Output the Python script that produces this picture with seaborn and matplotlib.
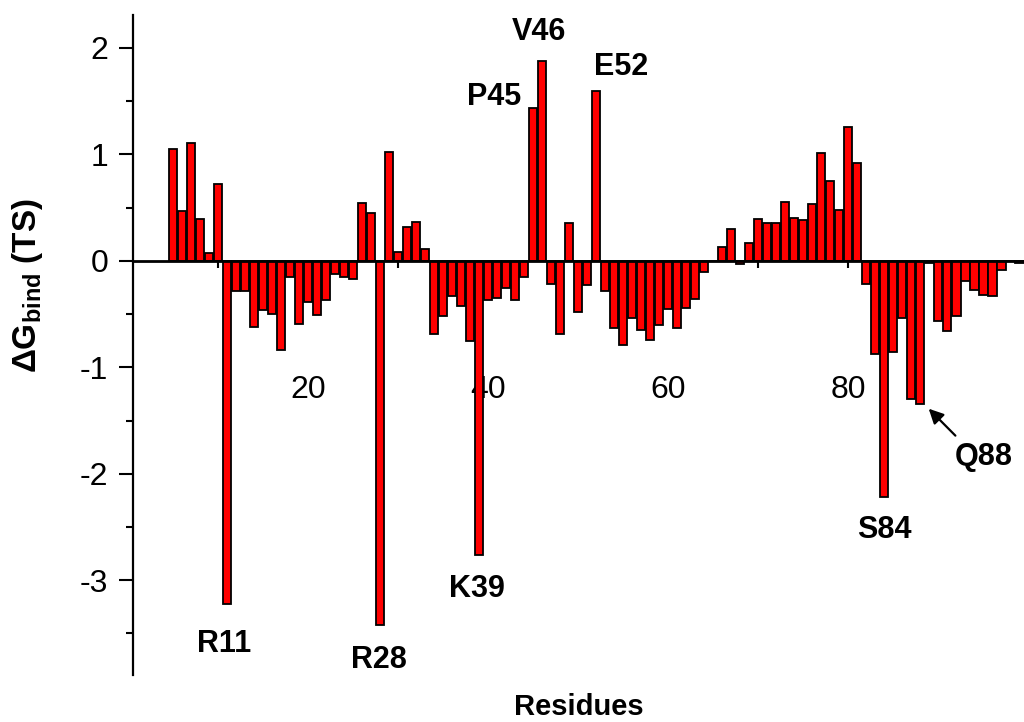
import numpy as np
import pandas as pd
import matplotlib
matplotlib.use("Agg")
import matplotlib.pyplot as plt
from matplotlib.ticker import MultipleLocator, FixedLocator
import seaborn as sns

# residue numbers and binding free energy contributions
residues = list(range(5, 100))
dg_bind = [1.05, 0.47, 1.11, 0.39, 0.07, 0.72, -3.22, -0.28, -0.28, -0.62,
           -0.46, -0.50, -0.84, -0.15, -0.59, -0.39, -0.51, -0.37, -0.12, -0.15,
           -0.17, 0.54, 0.45, -3.42, 1.02, 0.08, 0.32, 0.37, 0.11, -0.69,
           -0.52, -0.33, -0.42, -0.75, -2.76, -0.37, -0.35, -0.25, -0.37, -0.15,
           1.44, 1.88, -0.22, -0.69, 0.36, -0.48, -0.23, 1.60, -0.28, -0.63,
           -0.79, -0.54, -0.65, -0.74, -0.60, -0.45, -0.63, -0.44, -0.36, -0.10,
           0.0, 0.13, 0.30, -0.03, 0.17, 0.39, 0.36, 0.36, 0.55, 0.40,
           0.38, 0.53, 1.01, 0.75, 0.48, 1.26, 0.92, -0.22, -0.87, -2.22,
           -0.86, -0.54, -1.30, -1.34, -0.02, -0.56, -0.66, -0.52, -0.19, -0.27,
           -0.32, -0.33, -0.09, 0.0, -0.02]

# labelled hot-spot residues (text, x, baseline y)
hot_labels = ["V46", "P45", "E52", "R11", "R28", "K39", "S84", "Q88"]
hot_x = [45.6, 40.7, 54.8, 10.7, 27.9, 38.75, 84.0, 95.0]
hot_y = [2.075, 1.465, 1.746, -3.671, -3.822, -3.155, -2.601, -1.915]

df = pd.DataFrame({"residue": residues, "dg": dg_bind})

sns.set_theme(style="ticks")
plt.rcParams["font.family"] = ["Liberation Sans", "DejaVu Sans"]
plt.rcParams["axes.unicode_minus"] = False
plt.rcParams["mathtext.fontset"] = "custom"
plt.rcParams["mathtext.rm"] = "Liberation Sans"
plt.rcParams["mathtext.bf"] = "Liberation Sans:bold"
for key in ["text.color", "axes.labelcolor", "xtick.color", "ytick.color", "axes.edgecolor"]:
    plt.rcParams[key] = "black"

fig = plt.figure(figsize=(10.24, 7.22), dpi=100)
ax = fig.add_axes([133 / 1024, 1 - 675 / 722, 891 / 1024, 660 / 722])

sns.barplot(data=df, x="residue", y="dg", native_scale=True, color="red",
            saturation=1, edgecolor="black", linewidth=1.3, width=0.9,
            errorbar=None, ax=ax)

ax.set_xlim(0.57, 99.5)
ax.set_ylim(-3.89, 2.31)

ax.spines["top"].set_visible(False)
ax.spines["right"].set_visible(False)
ax.spines["bottom"].set_position(("data", 0))
ax.spines["bottom"].set_linewidth(2)
ax.spines["left"].set_linewidth(1.6)

ax.xaxis.set_major_locator(FixedLocator([20, 40, 60, 80]))
ax.xaxis.set_minor_locator(FixedLocator([10, 30, 50, 70, 90]))
ax.yaxis.set_major_locator(MultipleLocator(1))
ax.yaxis.set_minor_locator(MultipleLocator(0.5))
ax.tick_params(axis="x", which="both", direction="out", length=5, width=1.5,
               labelsize=23, pad=77)
ax.tick_params(axis="y", which="major", direction="out", length=10, width=1.5,
               labelsize=23, pad=8)
ax.tick_params(axis="y", which="minor", direction="out", length=5, width=1.5)

ax.set_xlabel("Residues", fontsize=21, fontweight="bold")
ax.xaxis.set_label_coords(0.5, -0.027)
ax.set_ylabel("ΔG$_{\\mathbf{bind}}$ (TS)", fontsize=24, fontweight="bold")
ax.yaxis.set_label_coords(-0.099, 0.59)

for lab, x, y in zip(hot_labels, hot_x, hot_y):
    ax.text(x, y, lab, fontsize=22, fontweight="bold", ha="center", va="baseline")

ax.annotate("", xy=(88.7, -1.37), xytext=(92.1, -1.66),
            arrowprops=dict(arrowstyle="-|>", color="black", lw=1.6, mutation_scale=22))

fig.savefig("out.png", dpi=100)
